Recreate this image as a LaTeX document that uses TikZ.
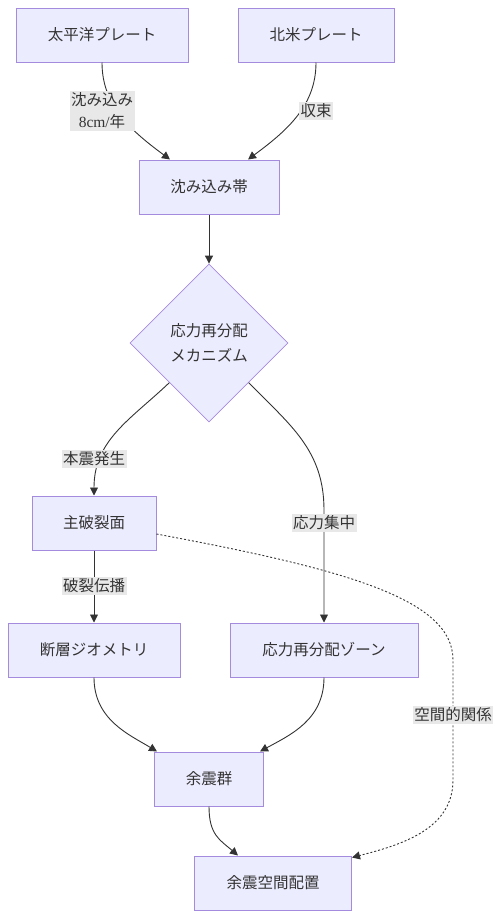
\documentclass[tikz,border=0pt]{standalone}
\usepackage{fontspec}
\setmainfont{Noto Sans CJK JP}
\newfontfamily\lserif{Liberation Serif}
\usetikzlibrary{arrows.meta,shapes.geometric}
\definecolor{boxfill}{HTML}{ECECFF}
\definecolor{boxdraw}{HTML}{A58BDD}
\definecolor{ink}{HTML}{333333}
\definecolor{lblbg}{HTML}{E8E8E8}
\tikzset{
  box/.style={draw=boxdraw, fill=boxfill, line width=1pt, minimum height=54pt, inner sep=0pt, text=ink, font=\fontsize{15.5}{22}\selectfont},
  decision/.style={diamond, draw=boxdraw, fill=boxfill, line width=0.8pt, minimum width=158pt, minimum height=158pt, inner sep=0pt, align=center, text=ink, font=\fontsize{15.5}{25}\selectfont},
  edge/.style={draw=ink, line width=0.9pt, -{Triangle[length=8pt,width=8pt]}},
  dotedge/.style={draw=ink, line width=0.9pt, dash pattern=on 2pt off 2pt, -{Triangle[length=8pt,width=8pt]}},
  lbl/.style={fill=lblbg, text=ink, inner sep=1.5pt, align=center, font=\fontsize{15.5}{22}\selectfont}
}
\begin{document}
\begin{tikzpicture}[x=1pt,y=-1pt]
\useasboundingbox (0,0) rectangle (501,918);
\node[box, minimum width=172pt] (pac) at (102,35) {太平洋プレート};
\node[box, minimum width=156pt] (na) at (316,35) {北米プレート};
\node[box, minimum width=140pt] (sub) at (209,187) {沈み込み帯};
\node[decision] (dia) at (209,343) {応力再分配\\メカニズム};
\node[box, minimum width=124pt] (mr) at (94,523) {主破裂面};
\node[box, minimum width=172pt] (fg) at (94,650) {断層ジオメトリ};
\node[box, minimum width=188pt] (zone) at (324,650) {応力再分配ゾーン};
\node[box, minimum width=109pt] (af) at (209,779) {余震群};
\node[box, minimum width=157pt] (sp) at (273,883) {余震空間配置};

\draw[edge] (pac.south) .. controls (102,105) and (130,130) .. ([xshift=-39pt]sub.north);
\draw[edge] (na.south) .. controls (316,105) and (288,130) .. ([xshift=39pt]sub.north);
\draw[edge] (sub.south) -- (dia.north);
\draw[edge] (dia.south west) .. controls (130,420) and (94,440) .. (mr.north);
\draw[edge] (dia.south east) .. controls (290,425) and (324,450) .. (324,510) -- (zone.north);
\draw[edge] (mr.south) -- (fg.north);
\draw[edge] (fg.south) .. controls (94,720) and (130,735) .. ([xshift=-52pt]af.north);
\draw[edge] (zone.south) .. controls (324,720) and (290,735) .. ([xshift=51pt]af.north);
\draw[edge] (af.south) .. controls (209,835) and (220,840) .. ([xshift=-35pt]sp.north);
\draw[dotedge] ([yshift=-11pt]mr.east) .. controls (350,570) and (453,600) .. (453,660) -- (453,780) .. controls (453,830) and (400,845) .. ([yshift=-2pt]sp.north east);

\node[lbl] (l1) at (102,111) {沈み込み\\{\lserif 8cm/}年};
\node[lbl] (l2) at (316,111) {収束};
\node[lbl] (l3) at (94,459) {本震発生};
\node[lbl] (l4) at (324,523) {応力集中};
\node[lbl] (l5) at (94,586) {破裂伝播};
\node[lbl] (l6) at (453,715) {空間的関係};
\end{tikzpicture}
\end{document}
